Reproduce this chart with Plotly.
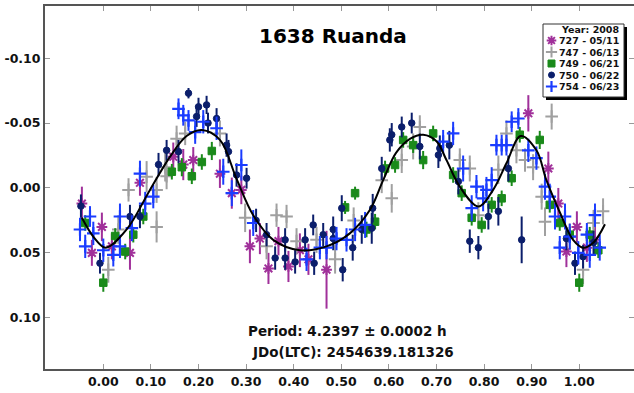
import plotly.graph_objects as go

# ---------------- data (phase, magnitude, error) ----------------
p727_x = [-0.045, -0.024, -0.003, 0.018, 0.056, 0.077, 0.147, 0.168, 0.189, 0.245, 0.270, 0.290,
          0.308, 0.329, 0.347, 0.368, 0.389, 0.413, 0.431, 0.469, 0.893, 0.935, 0.956, 0.973,
          0.995, 1.016, 1.033]
p727_y = [0.012, 0.050, 0.030, 0.045, 0.050, -0.004, -0.024, -0.018, -0.0215, -0.011, 0.004, 0.0015,
          0.045, 0.039, 0.062, 0.041, 0.0605, 0.048, 0.055, 0.063, -0.0575, -0.015, 0.012, 0.049,
          0.030, 0.046, 0.040]
p727_e = [0.013, 0.010, 0.011, 0.010, 0.013, 0.010, 0.011, 0.012, 0.010, 0.011, 0.012, 0.011,
          0.013, 0.012, 0.012, 0.011, 0.012, 0.013, 0.012, 0.030, 0.014, 0.013, 0.012, 0.012,
          0.012, 0.011, 0.012]

p747_x = [0.0105, 0.0315, 0.053, 0.091, 0.112, 0.112, 0.130, 0.133, 0.154, 0.172, 0.245, 0.298,
          0.343, 0.364, 0.385, 0.406, 0.448, 0.487, 0.526, 0.585, 0.606, 0.627, 0.651, 0.665,
          0.749, 0.770, 0.788, 0.830, 0.847, 0.868, 0.886, 0.903, 0.921, 0.928, 0.942, 0.980,
          1.008, 1.030, 1.050]
p747_y = [0.063, 0.032, 0.0015, -0.0087, 0.0015, 0.030, -0.016, -0.009, -0.038, -0.042, -0.042, 0.023,
          0.045, 0.021, 0.022, 0.041, 0.040, 0.055, 0.025, -0.006, 0.008, -0.0215, -0.032, -0.047,
          -0.0215, -0.015, 0.021, -0.014, -0.042, -0.029, -0.0215, -0.016, 0.0067, 0.026, -0.055, 0.0375,
          0.063, 0.027, 0.018]
p747_e = [0.010, 0.011, 0.009, 0.012, 0.010, 0.012, 0.011, 0.010, 0.010, 0.009, 0.010, 0.011,
          0.010, 0.009, 0.009, 0.010, 0.010, 0.011, 0.010, 0.010, 0.011, 0.010, 0.010, 0.009,
          0.009, 0.010, 0.010, 0.011, 0.010, 0.010, 0.009, 0.010, 0.010, 0.011, 0.010, 0.010,
          0.011, 0.010, 0.010]

p749_x = [-0.038, 0.000, 0.025, 0.046, 0.063, 0.084, 0.144, 0.165, 0.186, 0.207, 0.228, 0.508,
          0.529, 0.553, 0.571, 0.592, 0.613, 0.630, 0.651, 0.672, 0.693, 0.735, 0.753, 0.774,
          0.795, 0.816, 0.837, 0.858, 0.875, 0.917, 0.938, 0.959, 0.980, 1.000, 1.022, 1.040]
p749_y = [0.027, 0.073, 0.037, 0.049, 0.036, 0.022, -0.0125, -0.016, -0.009, -0.020, -0.0285, 0.015,
          0.004, 0.032, 0.026, -0.015, -0.0177, -0.037, -0.033, -0.0215, -0.042, -0.010, 0.004, 0.023,
          0.0285, 0.013, 0.008, -0.0075, -0.041, -0.037, 0.013, 0.027, 0.036, 0.073, 0.036, 0.048]
p749_e = [0.006, 0.007, 0.006, 0.006, 0.006, 0.006, 0.006, 0.007, 0.006, 0.006, 0.007, 0.005,
          0.005, 0.006, 0.006, 0.006, 0.006, 0.006, 0.006, 0.007, 0.006, 0.006, 0.006, 0.006,
          0.006, 0.006, 0.006, 0.006, 0.006, 0.007, 0.006, 0.006, 0.006, 0.007, 0.006, 0.006]

p750_x = [-0.047, -0.007, 0.056, 0.077, 0.116, 0.133, 0.158, 0.179, 0.196, 0.200, 0.217, 0.220,
          0.238, 0.259, 0.263, 0.280, 0.301, 0.321, 0.343, 0.361, 0.382, 0.382, 0.403, 0.424,
          0.441, 0.443, 0.462, 0.483, 0.483, 0.501, 0.503, 0.524, 0.543, 0.564, 0.566, 0.585,
          0.602, 0.606, 0.627, 0.648, 0.665, 0.704, 0.707, 0.727, 0.746, 0.770, 0.788, 0.809,
          0.830, 0.851, 0.879, 0.973, 0.991, 1.008, 1.030]
p750_y = [0.014, 0.058, 0.022, 0.022, -0.018, -0.029, -0.028, -0.073, -0.055, -0.0625, -0.064, -0.050,
          -0.0535, -0.033, -0.028, -0.010, -0.0075, 0.025, 0.036, 0.054, 0.040, 0.054, 0.057, 0.040,
          0.0285, 0.058, 0.036, 0.032, 0.039, 0.0156, 0.063, 0.046, 0.032, 0.031, 0.0156, -0.015,
          -0.037, -0.041, -0.047, -0.050, -0.032, -0.0254, -0.0305, -0.033, -0.005, 0.041, 0.046, 0.022,
          0.018, -0.015, 0.040, 0.039, 0.058, 0.053, 0.042]
p750_e = [0.009, 0.008, 0.009, 0.009, 0.009, 0.008, 0.009, 0.004, 0.008, 0.007, 0.007, 0.008,
          0.008, 0.009, 0.009, 0.009, 0.008, 0.009, 0.009, 0.009, 0.009, 0.009, 0.009, 0.009,
          0.008, 0.009, 0.009, 0.010, 0.009, 0.010, 0.009, 0.010, 0.011, 0.012, 0.011, 0.009,
          0.009, 0.009, 0.008, 0.008, 0.010, 0.010, 0.010, 0.011, 0.010, 0.009, 0.009, 0.010,
          0.011, 0.010, 0.018, 0.009, 0.009, 0.009, 0.009]

p754_x = [-0.049, -0.038, -0.028, -0.021, 0.000, 0.021, 0.035, 0.035, 0.060, 0.077, 0.088, 0.105,
          0.158, 0.168, 0.179, 0.193, 0.210, 0.238, 0.252, 0.270, 0.290, 0.315, 0.427, 0.455,
          0.469, 0.490, 0.511, 0.529, 0.550, 0.714, 0.735, 0.756, 0.774, 0.784, 0.798, 0.805,
          0.816, 0.826, 0.837, 0.847, 0.858, 0.872, 0.893, 0.910, 0.928, 0.938, 0.949, 0.959,
          0.970, 0.980, 0.998, 1.016, 1.022, 1.033, 1.043]
p754_y = [0.032, 0.045, 0.022, 0.035, 0.048, 0.0515, 0.022, 0.045, 0.031, -0.011, 0.012, 0.0067,
          -0.061, -0.056, -0.052, -0.043, -0.051, -0.046, -0.0125, 0.004, -0.0177, 0.027, 0.055, 0.046,
          0.046, 0.039, 0.040, 0.032, 0.0285, -0.0357, -0.042, -0.015, 0.0156, -0.001, 0.008, 0.0015,
          -0.006, -0.033, -0.033, -0.033, -0.051, -0.0535, -0.029, -0.023, -0.001, 0.0067, 0.022, 0.046,
          0.022, 0.0375, 0.050, 0.036, 0.0515, 0.021, 0.046]
p754_e = [0.009, 0.009, 0.008, 0.009, 0.009, 0.009, 0.010, 0.009, 0.010, 0.010, 0.009, 0.009,
          0.008, 0.008, 0.008, 0.009, 0.009, 0.009, 0.010, 0.010, 0.012, 0.010, 0.009, 0.009,
          0.009, 0.009, 0.009, 0.009, 0.010, 0.009, 0.009, 0.010, 0.010, 0.009, 0.010, 0.010,
          0.010, 0.008, 0.008, 0.008, 0.008, 0.008, 0.009, 0.009, 0.010, 0.010, 0.010, 0.009,
          0.010, 0.010, 0.009, 0.009, 0.010, 0.009, 0.010]

# highlighted (circled / boxed) points
hl_x = [0.179, 0.290, 0.228, 0.469, 0.508, 0.749, 0.784, 0.879, 0.893]
hl_y = [-0.073, -0.0177, -0.0285, 0.063, 0.015, -0.0215, -0.001, 0.040, -0.0575]
hl_color = ["#0b1e6b", "#1a3cff", "#1a8a1a", "#a0309a", "#1a8a1a", "#a0a0a0", "#1a3cff", "#0b1e6b", "#a0309a"]
hl_symbol = ["circle-open", "square-open", "square-open", "square-open", "circle-open",
             "circle-open", "circle-open", "square-open", "circle-open"]

# Fourier fit curve
fit_x = [-0.045, -0.02, 0.005, 0.049, 0.098, 0.14, 0.175, 0.207, 0.245, 0.28, 0.315, 0.357,
         0.413, 0.469, 0.518, 0.56, 0.588, 0.615, 0.645, 0.672, 0.70, 0.721, 0.749, 0.788,
         0.819, 0.847, 0.877, 0.91, 0.931, 0.96, 0.987, 1.008, 1.03, 1.054]
fit_y = [0.023, 0.038, 0.046, 0.032, 0.0015, -0.024, -0.040, -0.0446, -0.037, -0.007, 0.021, 0.040,
         0.048, 0.045, 0.035, 0.017, -0.006, -0.027, -0.038, -0.041, -0.036, -0.0215, -0.001, 0.0143,
         0.0015, -0.019, -0.040, -0.029, -0.006, 0.0195, 0.040, 0.046, 0.042, 0.028]

x_ticks = [0.0, 0.1, 0.2, 0.3, 0.4, 0.5, 0.6, 0.7, 0.8, 0.9, 1.0]
x_tick_text = ["0.00", "0.10", "0.20", "0.30", "0.40", "0.50", "0.60", "0.70", "0.80", "0.90", "1.00"]
y_ticks = [-0.10, -0.05, 0.0, 0.05, 0.10]
y_tick_text = ["-0.10", "-0.05", "0.00", "0.05", "0.10"]

legend_title = "Year: 2008"
series_names = ["727 - 05/11", "747 - 06/13", "749 - 06/21", "750 - 06/22", "754 - 06/23"]

# ---------------- styles ----------------
FONT = "DejaVu Sans, Verdana, Arial, sans-serif"
PURPLE = "#a0309a"
GRAY = "#a0a0a0"
GREEN = "#1a8a1a"
NAVY = "#0b1e6b"
BLUE = "#1a3cff"

styles = [
    dict(color=PURPLE, symbol="asterisk-open", size=9, lw=2),
    dict(color=GRAY, symbol="cross-thin-open", size=9, lw=2),
    dict(color=GREEN, symbol="square", size=7.5, lw=1),
    dict(color=NAVY, symbol="circle", size=6.5, lw=1),
    dict(color=BLUE, symbol="cross-thin-open", size=9, lw=2.2),
]
series = [(p727_x, p727_y, p727_e), (p747_x, p747_y, p747_e), (p749_x, p749_y, p749_e),
          (p750_x, p750_y, p750_e), (p754_x, p754_y, p754_e)]

fig = go.Figure()

for (sx, sy, se), st, nm in zip(series, styles, series_names):
    fig.add_trace(go.Scatter(
        x=sx, y=sy, mode="markers", name=nm, showlegend=False,
        error_y=dict(type="data", array=se, visible=True, color=st["color"], thickness=2, width=0),
        marker=dict(symbol=st["symbol"], size=st["size"], color=st["color"],
                    line=dict(color=st["color"], width=st["lw"])),
    ))

fig.add_trace(go.Scatter(
    x=hl_x, y=hl_y, mode="markers", showlegend=False,
    marker=dict(symbol=hl_symbol, size=13, color="rgba(0,0,0,0)",
                line=dict(color=hl_color, width=1.5)),
))

fig.add_trace(go.Scatter(
    x=fit_x, y=fit_y, mode="lines", showlegend=False,
    line=dict(color="black", width=2, shape="spline", smoothing=1.0),
))

# ---------------- manual legend on a pixel overlay axis ----------------
leg_rows_y = [40.5, 52, 63.5, 75, 86.5]
leg_sizes = [8, 8, 7, 6, 8]
for st, ly, ms in zip(styles, leg_rows_y, leg_sizes):
    fig.add_trace(go.Scatter(
        x=[551.5], y=[ly], xaxis="x2", yaxis="y2", mode="markers", showlegend=False,
        marker=dict(symbol=st["symbol"], size=ms, color=st["color"],
                    line=dict(color=st["color"], width=st["lw"])),
    ))

fig.add_shape(type="rect", xref="x2", yref="y2", x0=546, x1=627, y0=27, y1=100,
              fillcolor="black", line=dict(width=0), layer="below")
fig.add_shape(type="rect", xref="x2", yref="y2", x0=543, x1=624, y0=24, y1=97,
              fillcolor="white", line=dict(color="#333", width=1), layer="below")

fig.add_annotation(xref="x2", yref="y2", x=621, y=29, text=legend_title, showarrow=False,
                   xanchor="right", yanchor="middle",
                   font=dict(family=FONT, size=9.5, color="#111", weight="bold"))
for nm, ly in zip(series_names, leg_rows_y):
    fig.add_annotation(xref="x2", yref="y2", x=621, y=ly, text=nm, showarrow=False,
                       xanchor="right", yanchor="middle",
                       font=dict(family=FONT, size=9.5, color="#111", weight="bold"))

# title and period text
fig.add_annotation(xref="x2", yref="y2", x=333, y=36, text="1638 Ruanda", showarrow=False,
                   xanchor="center", yanchor="middle",
                   font=dict(family=FONT, size=20, color="black", weight="bold"))
fig.add_annotation(xref="x2", yref="y2", x=347, y=331, text="Period: 4.2397 ± 0.0002 h",
                   showarrow=False, xanchor="center", yanchor="middle",
                   font=dict(family=FONT, size=13.5, color="#111", weight="bold"))
fig.add_annotation(xref="x2", yref="y2", x=353, y=352, text="JDo(LTC): 2454639.181326",
                   showarrow=False, xanchor="center", yanchor="middle",
                   font=dict(family=FONT, size=13.5, color="#111", weight="bold"))

tickfont = dict(family=FONT, size=12.5, color="#111", weight="bold")
axis_common = dict(showgrid=False, zeroline=False, ticks="inside", ticklen=5, tickwidth=1,
                   tickcolor="#999", showline=True, linecolor="#555", linewidth=2,
                   tickfont=tickfont)

fig.update_layout(
    width=634, height=393,
    margin=dict(l=45, r=0, t=6, b=24, pad=0),
    paper_bgcolor="white", plot_bgcolor="white",
    showlegend=False,
    xaxis=dict(range=[-0.1225, 1.115], tickvals=x_ticks, ticktext=x_tick_text, mirror="ticks",
               **axis_common),
    yaxis=dict(range=[0.1395, -0.1402], tickvals=y_ticks, ticktext=y_tick_text, mirror=False,
               **axis_common),
    yaxis3=dict(overlaying="y", side="right", anchor="x", range=[0.1395, -0.1402],
                tickvals=y_ticks, showticklabels=False, ticks="inside", ticklen=5, tickwidth=1,
                tickcolor="#999", showline=False, showgrid=False, zeroline=False),
    xaxis2=dict(overlaying="x", range=[45, 634], visible=False, fixedrange=True),
    yaxis2=dict(overlaying="y", range=[369, 6], visible=False, fixedrange=True),
)

# dummy invisible trace so the right-hand tick axis is drawn
fig.add_trace(go.Scatter(x=[0.5], y=[0.0], yaxis="y3", mode="markers", showlegend=False,
                         marker=dict(size=1, color="rgba(0,0,0,0)"), hoverinfo="skip"))

fig.write_html("out.html")
